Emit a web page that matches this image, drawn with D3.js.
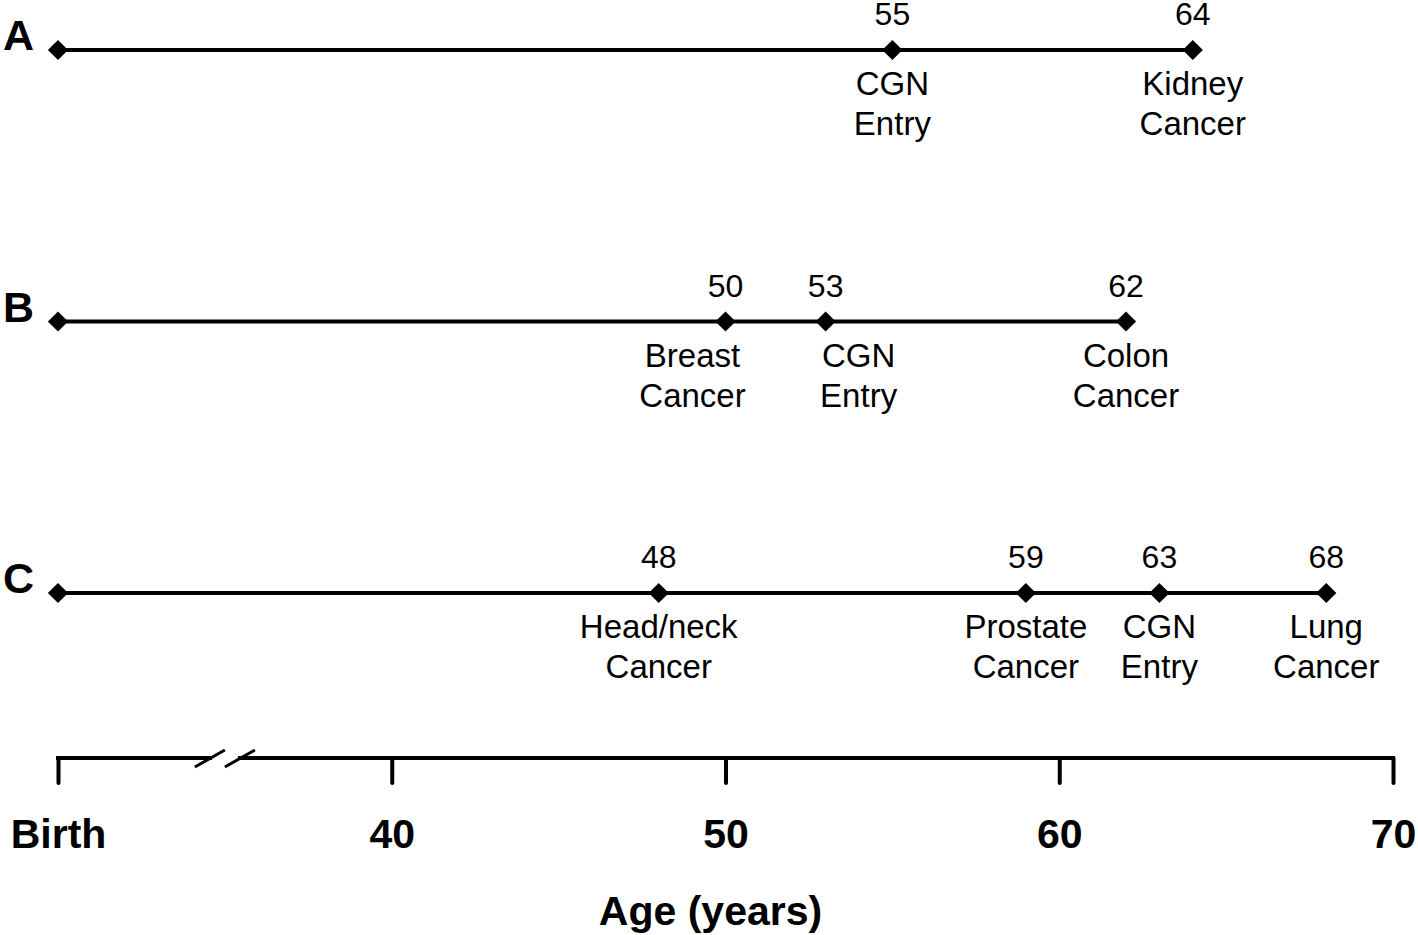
<!DOCTYPE html>
<html>
<head>
<meta charset="utf-8">
<script src="https://cdn.jsdelivr.net/npm/d3@7"></script>
<style>
  html, body { margin: 0; padding: 0; background: #fff; }
  svg { display: block; font-family: "Liberation Sans", Arial, sans-serif; }
</style>
</head>
<body>
<svg id="chart" width="1418" height="935"></svg>
<script>
// ---- data ----
const rowLabels = ["A", "B", "C"];
const birthAge = 30;
const agesA = [55, 64];
const labelsA = [["CGN", "Entry"], ["Kidney", "Cancer"]];
const agesB = [50, 53, 62];
const labelsB = [["Breast", "Cancer"], ["CGN", "Entry"], ["Colon", "Cancer"]];
const agesC = [48, 59, 63, 68];
const labelsC = [["Head/neck", "Cancer"], ["Prostate", "Cancer"], ["CGN", "Entry"], ["Lung", "Cancer"]];
const tickValues = [30, 40, 50, 60, 70];
const tickLabels = ["Birth", "40", "50", "60", "70"];
const axisTitle = "Age (years)";

// ---- layout ----
const svg = d3.select("#chart");
const x = d3.scaleLinear().domain([30, 70]).range([58, 1393]);
const rowY = d3.scalePoint().domain(rowLabels).range([50, 593]);
const axisY = 758;
const ink = "#000";
// small horizontal nudges for labels that would otherwise collide (row-age key)
const labelNudge = { "B-50": -33, "B-53": 33 };

const rows = [
  { key: "A", ages: agesA, labels: labelsA },
  { key: "B", ages: agesB, labels: labelsB },
  { key: "C", ages: agesC, labels: labelsC }
];

const diamond = d3.symbol().type(d3.symbolSquare).size(205);

rows.forEach(r => {
  const y = rowY(r.key);
  const g = svg.append("g");
  // row letter
  g.append("text").attr("x", 3).attr("y", y)
    .attr("font-size", 43).attr("font-weight", "bold").attr("fill", ink)
    .text(r.key);
  // line from birth to last event
  g.append("line")
    .attr("x1", x(birthAge)).attr("x2", x(d3.max(r.ages)))
    .attr("y1", y).attr("y2", y)
    .attr("stroke", ink).attr("stroke-width", 4);
  const pts = [birthAge].concat(r.ages);
  g.selectAll("path.dm").data(pts).join("path")
    .attr("class", "dm")
    .attr("d", diamond)
    .attr("transform", d => `translate(${x(d)},${y}) rotate(45)`)
    .attr("fill", ink);
  // numbers above
  g.selectAll("text.num").data(r.ages).join("text")
    .attr("class", "num")
    .attr("x", d => x(d)).attr("y", y - 25)
    .attr("text-anchor", "middle").attr("font-size", 32).attr("fill", ink)
    .text(d => d);
  // event labels below
  r.ages.forEach((a, i) => {
    const dx = labelNudge[r.key + "-" + a] || 0;
    const t = g.append("text")
      .attr("x", x(a) + dx).attr("y", y + 45)
      .attr("text-anchor", "middle").attr("font-size", 33).attr("fill", ink);
    r.labels[i].forEach((line, j) => {
      t.append("tspan").attr("x", x(a) + dx).attr("dy", j === 0 ? 0 : 40).text(line);
    });
  });
});

// ---- age axis ----
const axis = d3.axisBottom(x)
  .tickValues(tickValues)
  .tickFormat((d, i) => tickLabels[i])
  .tickSize(25)
  .tickSizeOuter(0);
const ag = svg.append("g").attr("transform", `translate(0,${axisY})`).call(axis);
ag.select(".domain").remove();
ag.selectAll(".tick line").attr("stroke", ink).attr("stroke-width", 4).attr("stroke-linecap", "round");
ag.selectAll(".tick text")
  .attr("y", 90).attr("dy", 0)
  .attr("font-family", "'Liberation Sans', Arial, sans-serif")
  .attr("font-size", 41).attr("font-weight", "bold").attr("fill", ink);

// axis baseline with a break between Birth and 40
const breakC = (x(tickValues[0]) + x(tickValues[1])) / 2;
const half = 15;
ag.append("path")
  .attr("d", `M${x(30)},0 L${breakC - half},0 M${breakC + half},0 L${x(70)},0`)
  .attr("stroke", ink).attr("stroke-width", 4).attr("fill", "none").attr("stroke-linecap", "square");
[breakC - half, breakC + half].forEach(cx => {
  ag.append("line")
    .attr("x1", cx - 15).attr("y1", 9).attr("x2", cx + 15).attr("y2", -8)
    .attr("stroke", ink).attr("stroke-width", 3);
});

// axis title
svg.append("text").attr("x", x(50) - 15).attr("y", 925)
  .attr("text-anchor", "middle").attr("font-size", 41).attr("font-weight", "bold").attr("fill", ink)
  .text(axisTitle);
</script>
</body>
</html>
